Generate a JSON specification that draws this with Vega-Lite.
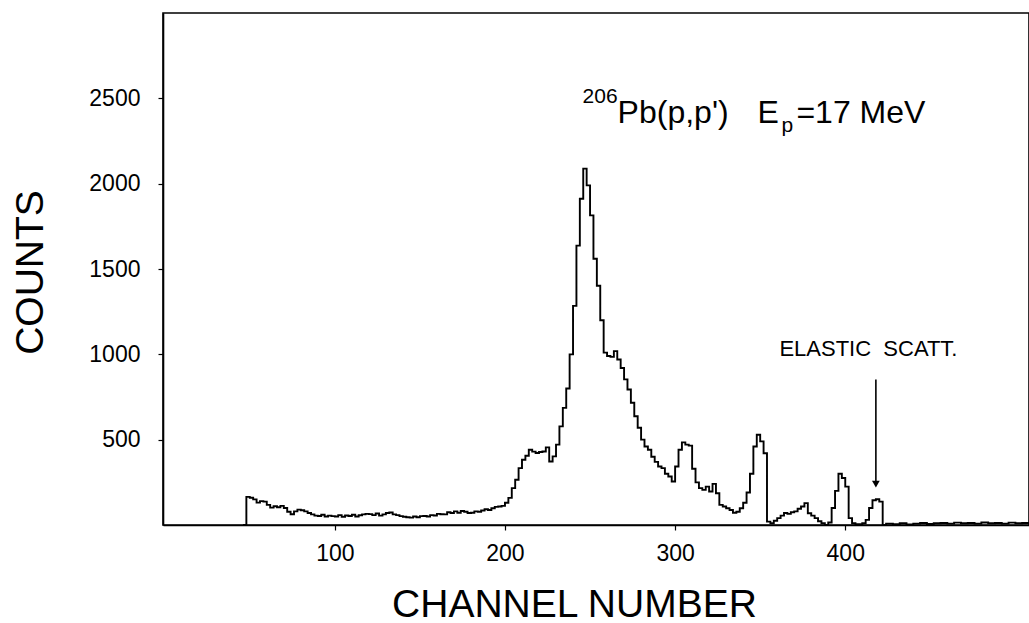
{
  "$schema": "https://vega.github.io/schema/vega-lite/v6.json",
  "autosize": "none",
  "width": 866,
  "height": 512,
  "padding": {"left": 163, "top": 13, "right": 0, "bottom": 98},
  "background": "white",
  "config": {
    "view": {"stroke": "black", "strokeWidth": 1.6},
    "font": "Liberation Sans",
    "axis": {
      "grid": false,
      "domainColor": "black",
      "domainWidth": 1.6,
      "tickColor": "black",
      "tickWidth": 1.2,
      "tickSize": 5,
      "labelColor": "black",
      "labelFont": "Liberation Sans",
      "labelFontSize": 23,
      "titleColor": "black",
      "titleFont": "Liberation Sans",
      "titleFontSize": 39,
      "titleFontWeight": "normal"
    }
  },
  "datasets": {
    "spectrum": [
      {"channel": 46, "counts": 0},
      {"channel": 48, "counts": 165},
      {"channel": 50, "counts": 160},
      {"channel": 52, "counts": 150},
      {"channel": 54, "counts": 131},
      {"channel": 56, "counts": 140},
      {"channel": 58, "counts": 137},
      {"channel": 60, "counts": 118},
      {"channel": 62, "counts": 102},
      {"channel": 64, "counts": 110},
      {"channel": 66, "counts": 104},
      {"channel": 68, "counts": 112},
      {"channel": 70, "counts": 100},
      {"channel": 72, "counts": 78},
      {"channel": 74, "counts": 63},
      {"channel": 76, "counts": 80},
      {"channel": 78, "counts": 90},
      {"channel": 80, "counts": 86},
      {"channel": 82, "counts": 80},
      {"channel": 84, "counts": 70},
      {"channel": 86, "counts": 62},
      {"channel": 88, "counts": 55},
      {"channel": 90, "counts": 53},
      {"channel": 92, "counts": 60},
      {"channel": 94, "counts": 50},
      {"channel": 96, "counts": 55},
      {"channel": 98, "counts": 52},
      {"channel": 100, "counts": 50},
      {"channel": 102, "counts": 58},
      {"channel": 104, "counts": 48},
      {"channel": 106, "counts": 56},
      {"channel": 108, "counts": 53},
      {"channel": 110, "counts": 60},
      {"channel": 112, "counts": 50},
      {"channel": 114, "counts": 57},
      {"channel": 116, "counts": 62},
      {"channel": 118, "counts": 65},
      {"channel": 120, "counts": 64},
      {"channel": 122, "counts": 58},
      {"channel": 124, "counts": 67},
      {"channel": 126, "counts": 55},
      {"channel": 128, "counts": 62},
      {"channel": 130, "counts": 70},
      {"channel": 132, "counts": 73},
      {"channel": 134, "counts": 62},
      {"channel": 136, "counts": 58},
      {"channel": 138, "counts": 52},
      {"channel": 140, "counts": 48},
      {"channel": 142, "counts": 45},
      {"channel": 144, "counts": 43},
      {"channel": 146, "counts": 50},
      {"channel": 148, "counts": 45},
      {"channel": 150, "counts": 52},
      {"channel": 152, "counts": 53},
      {"channel": 154, "counts": 50},
      {"channel": 156, "counts": 58},
      {"channel": 158, "counts": 56},
      {"channel": 160, "counts": 65},
      {"channel": 162, "counts": 63},
      {"channel": 164, "counts": 62},
      {"channel": 166, "counts": 75},
      {"channel": 168, "counts": 70},
      {"channel": 170, "counts": 80},
      {"channel": 172, "counts": 72},
      {"channel": 174, "counts": 82},
      {"channel": 176, "counts": 78},
      {"channel": 178, "counts": 70},
      {"channel": 180, "counts": 72},
      {"channel": 182, "counts": 80},
      {"channel": 184, "counts": 78},
      {"channel": 186, "counts": 85},
      {"channel": 188, "counts": 92},
      {"channel": 190, "counts": 88},
      {"channel": 192, "counts": 98},
      {"channel": 194, "counts": 106},
      {"channel": 196, "counts": 108},
      {"channel": 198, "counts": 112},
      {"channel": 200, "counts": 130},
      {"channel": 202, "counts": 159},
      {"channel": 204, "counts": 216},
      {"channel": 206, "counts": 265},
      {"channel": 208, "counts": 333},
      {"channel": 210, "counts": 382},
      {"channel": 212, "counts": 406},
      {"channel": 214, "counts": 441},
      {"channel": 216, "counts": 430},
      {"channel": 218, "counts": 422},
      {"channel": 220, "counts": 428},
      {"channel": 222, "counts": 431},
      {"channel": 224, "counts": 455},
      {"channel": 226, "counts": 372},
      {"channel": 228, "counts": 402},
      {"channel": 230, "counts": 471},
      {"channel": 232, "counts": 578},
      {"channel": 234, "counts": 686},
      {"channel": 236, "counts": 800},
      {"channel": 238, "counts": 1000},
      {"channel": 240, "counts": 1284},
      {"channel": 242, "counts": 1637},
      {"channel": 244, "counts": 1912},
      {"channel": 246, "counts": 2088},
      {"channel": 248, "counts": 1990},
      {"channel": 250, "counts": 1814},
      {"channel": 252, "counts": 1560},
      {"channel": 254, "counts": 1402},
      {"channel": 256, "counts": 1200},
      {"channel": 258, "counts": 1010},
      {"channel": 260, "counts": 990},
      {"channel": 262, "counts": 985},
      {"channel": 264, "counts": 1019},
      {"channel": 266, "counts": 970},
      {"channel": 268, "counts": 920},
      {"channel": 270, "counts": 853},
      {"channel": 272, "counts": 794},
      {"channel": 274, "counts": 716},
      {"channel": 276, "counts": 637},
      {"channel": 278, "counts": 570},
      {"channel": 280, "counts": 500},
      {"channel": 282, "counts": 460},
      {"channel": 284, "counts": 441},
      {"channel": 286, "counts": 400},
      {"channel": 288, "counts": 370},
      {"channel": 290, "counts": 343},
      {"channel": 292, "counts": 333},
      {"channel": 294, "counts": 300},
      {"channel": 296, "counts": 284},
      {"channel": 298, "counts": 255},
      {"channel": 300, "counts": 343},
      {"channel": 302, "counts": 441},
      {"channel": 304, "counts": 484},
      {"channel": 306, "counts": 471},
      {"channel": 308, "counts": 465},
      {"channel": 310, "counts": 330},
      {"channel": 312, "counts": 250},
      {"channel": 314, "counts": 216},
      {"channel": 316, "counts": 206},
      {"channel": 318, "counts": 225},
      {"channel": 320, "counts": 196},
      {"channel": 322, "counts": 241},
      {"channel": 324, "counts": 186},
      {"channel": 326, "counts": 118},
      {"channel": 328, "counts": 108},
      {"channel": 330, "counts": 98},
      {"channel": 332, "counts": 88},
      {"channel": 334, "counts": 72},
      {"channel": 336, "counts": 78},
      {"channel": 338, "counts": 98},
      {"channel": 340, "counts": 130},
      {"channel": 342, "counts": 190},
      {"channel": 344, "counts": 300},
      {"channel": 346, "counts": 460},
      {"channel": 348, "counts": 529},
      {"channel": 350, "counts": 490},
      {"channel": 352, "counts": 420},
      {"channel": 354, "counts": 20},
      {"channel": 356, "counts": 10},
      {"channel": 358, "counts": 25},
      {"channel": 360, "counts": 40},
      {"channel": 362, "counts": 55},
      {"channel": 364, "counts": 70},
      {"channel": 366, "counts": 65},
      {"channel": 368, "counts": 75},
      {"channel": 370, "counts": 80},
      {"channel": 372, "counts": 95},
      {"channel": 374, "counts": 108},
      {"channel": 376, "counts": 128},
      {"channel": 378, "counts": 69},
      {"channel": 380, "counts": 55},
      {"channel": 382, "counts": 40},
      {"channel": 384, "counts": 22},
      {"channel": 386, "counts": 10},
      {"channel": 388, "counts": 0},
      {"channel": 390, "counts": 15},
      {"channel": 392, "counts": 100},
      {"channel": 394, "counts": 200},
      {"channel": 396, "counts": 300},
      {"channel": 398, "counts": 275},
      {"channel": 400, "counts": 225},
      {"channel": 402, "counts": 40},
      {"channel": 404, "counts": 10},
      {"channel": 406, "counts": 5},
      {"channel": 408, "counts": 5},
      {"channel": 410, "counts": 10},
      {"channel": 412, "counts": 30},
      {"channel": 414, "counts": 100},
      {"channel": 416, "counts": 145},
      {"channel": 418, "counts": 151},
      {"channel": 420, "counts": 137},
      {"channel": 422, "counts": 0},
      {"channel": 424, "counts": 8},
      {"channel": 428, "counts": 5},
      {"channel": 432, "counts": 10},
      {"channel": 436, "counts": 3},
      {"channel": 440, "counts": 8},
      {"channel": 444, "counts": 12},
      {"channel": 448, "counts": 6},
      {"channel": 452, "counts": 10},
      {"channel": 456, "counts": 12},
      {"channel": 460, "counts": 8},
      {"channel": 464, "counts": 14},
      {"channel": 468, "counts": 10},
      {"channel": 472, "counts": 12},
      {"channel": 476, "counts": 8},
      {"channel": 480, "counts": 15},
      {"channel": 484, "counts": 10},
      {"channel": 488, "counts": 12},
      {"channel": 492, "counts": 8},
      {"channel": 496, "counts": 14},
      {"channel": 500, "counts": 10},
      {"channel": 504, "counts": 12},
      {"channel": 508, "counts": 10}
    ],
    "bigText": [
      {"channel": 266.2, "counts": 2353, "text": "Pb(p,p')"},
      {"channel": 348.4, "counts": 2353, "text": "E"},
      {"channel": 371.3, "counts": 2353, "text": "=17 MeV"}
    ],
    "smallText": [
      {"channel": 245.6, "counts": 2470, "text": "206"},
      {"channel": 362.5, "counts": 2300, "text": "p"}
    ],
    "elastic": [
      {"channel": 361.3, "counts": 988, "text": "ELASTIC\u00a0\u00a0SCATT."}
    ],
    "arrow": [
      {"channel": 418, "top": 853, "bottom": 250, "head": 240}
    ]
  },
  "layer": [
    {
      "data": {"name": "spectrum"},
      "mark": {"type": "line", "interpolate": "step-after", "color": "black", "strokeWidth": 1.9},
      "encoding": {
        "x": {
          "field": "channel", "type": "quantitative",
          "scale": {"domain": [-1, 508], "nice": false, "zero": false},
          "axis": {"values": [100, 200, 300, 400], "format": "d", "labelPadding": 12, "title": "CHANNEL NUMBER", "titleX": 411, "titleY": 91, "titleBaseline": "alphabetic", "titleAlign": "center"}
        },
        "y": {
          "field": "counts", "type": "quantitative",
          "scale": {"domain": [0, 3000], "nice": false},
          "axis": {"values": [500, 1000, 1500, 2000, 2500], "format": "d", "labelPadding": 18, "title": "COUNTS", "titleX": -121, "titleY": 259, "titleAngle": -90, "titleBaseline": "alphabetic", "titleAlign": "center"}
        }
      }
    },
    {
      "data": {"name": "bigText"},
      "mark": {"type": "text", "align": "left", "baseline": "alphabetic", "fontSize": 32, "font": "Liberation Sans", "color": "black"},
      "encoding": {
        "x": {"field": "channel", "type": "quantitative"},
        "y": {"field": "counts", "type": "quantitative"},
        "text": {"field": "text"}
      }
    },
    {
      "data": {"name": "smallText"},
      "mark": {"type": "text", "align": "left", "baseline": "alphabetic", "fontSize": 21, "font": "Liberation Sans", "color": "black"},
      "encoding": {
        "x": {"field": "channel", "type": "quantitative"},
        "y": {"field": "counts", "type": "quantitative"},
        "text": {"field": "text"}
      }
    },
    {
      "data": {"name": "elastic"},
      "mark": {"type": "text", "align": "left", "baseline": "alphabetic", "fontSize": 22, "font": "Liberation Sans", "color": "black"},
      "encoding": {
        "x": {"field": "channel", "type": "quantitative"},
        "y": {"field": "counts", "type": "quantitative"},
        "text": {"field": "text"}
      }
    },
    {
      "data": {"name": "arrow"},
      "mark": {"type": "rule", "color": "black", "strokeWidth": 1.6},
      "encoding": {
        "x": {"field": "channel", "type": "quantitative"},
        "y": {"field": "top", "type": "quantitative"},
        "y2": {"field": "bottom"}
      }
    },
    {
      "data": {"name": "arrow"},
      "mark": {"type": "point", "shape": "triangle-down", "filled": true, "color": "black", "size": 60, "opacity": 1},
      "encoding": {
        "x": {"field": "channel", "type": "quantitative"},
        "y": {"field": "head", "type": "quantitative"}
      }
    }
  ]
}
